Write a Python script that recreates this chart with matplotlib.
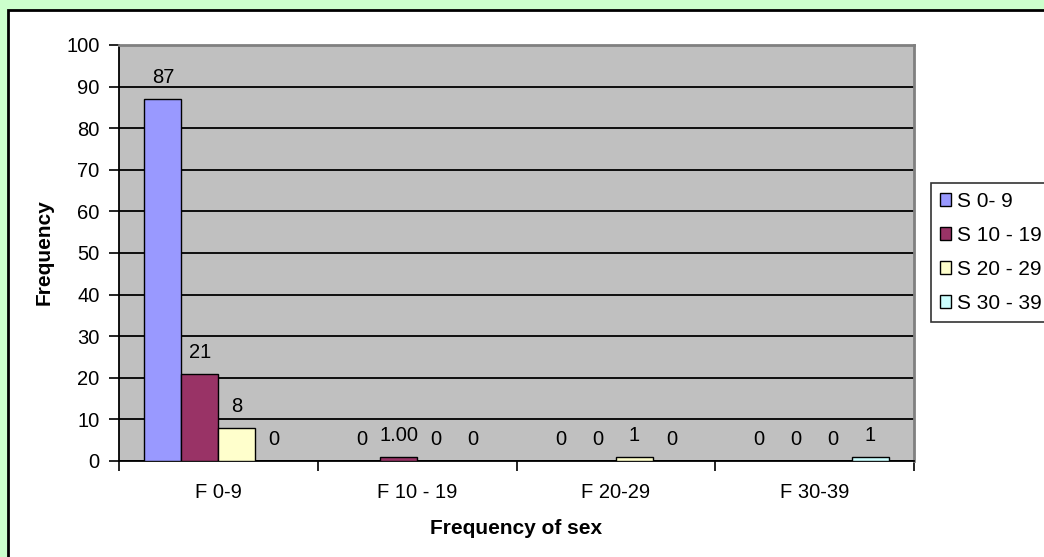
import matplotlib.pyplot as plt
import numpy as np
from matplotlib.patches import Rectangle

# Category groups and series counts
categories = ["F 0-9", "F 10 - 19", "F 20-29", "F 30-39"]
series_names = ["S 0- 9", "S 10 - 19", "S 20 - 29", "S 30 - 39"]
s_0_9 = [87, 0, 0, 0]
s_10_19 = [21, 1, 0, 0]
s_20_29 = [8, 0, 1, 0]
s_30_39 = [0, 0, 0, 1]
series_values = [s_0_9, s_10_19, s_20_29, s_30_39]
series_colors = ["#9999FF", "#993366", "#FFFFCC", "#CCFFFF"]
y_ticks = list(range(0, 101, 10))

# one label in the sheet is shown with two decimals
label_formats = {(1, 1): "{:.2f}"}

plt.rcParams['font.family'] = ['Liberation Sans', 'DejaVu Sans']

fig = plt.figure(figsize=(10.44, 5.57), dpi=100)
fig.patch.set_facecolor("#CCFFCC")

# white chart area with a black frame, running off the right/bottom edges
W, H = 1044, 557
fig.patches.append(Rectangle((8 / W, -0.1), 1.2, 1 - 10 / H + 0.1,
                             transform=fig.transFigure, facecolor="white",
                             edgecolor="black", linewidth=2, zorder=-10))

ax = fig.add_axes([119 / W, 1 - 461 / H, (914 - 119) / W, (461 - 45) / H])
ax.set_facecolor("#C0C0C0")

x = np.arange(len(categories))
w = 0.186
for i, (name, vals, col) in enumerate(zip(series_names, series_values, series_colors)):
    pos = x + (i - 1.5) * w
    ax.bar(pos, vals, width=w, color=col, edgecolor="black", linewidth=1,
           label=name, zorder=3)
    for j, (p, v) in enumerate(zip(pos, vals)):
        fmt = label_formats.get((i, j), "{:g}")
        ax.annotate(fmt.format(v), (p, v), xytext=(0, 8.5), textcoords="offset points",
                    ha="center", va="bottom", fontsize=14.5, zorder=4)

ax.set_xlim(-0.5, len(categories) - 0.5)
ax.set_ylim(0, 100)
ax.set_yticks(y_ticks)
ax.yaxis.grid(True, color="black", linewidth=1.3, zorder=1)
ax.set_axisbelow(True)
ax.tick_params(axis="y", direction="out", length=7, width=1.2, pad=7, labelsize=14.5)

ax.set_xticks(x)
ax.set_xticklabels(categories, fontsize=14.5)
ax.set_xticks(np.arange(len(categories) + 1) - 0.5, minor=True)
ax.tick_params(axis="x", which="major", length=0, pad=16)
ax.tick_params(axis="x", which="minor", direction="out", length=7, width=1.2)

for side in ("left", "bottom"):
    ax.spines[side].set_color("black")
    ax.spines[side].set_linewidth(1.3)
for side in ("top", "right"):
    ax.spines[side].set_color("#808080")
    ax.spines[side].set_linewidth(2)

fig.text(44 / W, 1 - 252 / H, "Frequency", rotation=90, ha="center", va="center",
         fontsize=15, fontweight="bold")
fig.text(516 / W, 1 - 529 / H, "Frequency of sex", ha="center", va="center",
         fontsize=15, fontweight="bold")

leg = fig.legend(loc="upper left", bbox_to_anchor=(931 / W, 1 - 183 / H),
                 fontsize=15, frameon=True, fancybox=False, handlelength=0.55,
                 handleheight=0.55, handletextpad=0.3, labelspacing=0.72,
                 borderpad=0.42, borderaxespad=0)
leg.get_frame().set_edgecolor("black")
leg.get_frame().set_linewidth(1.2)

fig.savefig("out.png", dpi=100, facecolor=fig.get_facecolor())
